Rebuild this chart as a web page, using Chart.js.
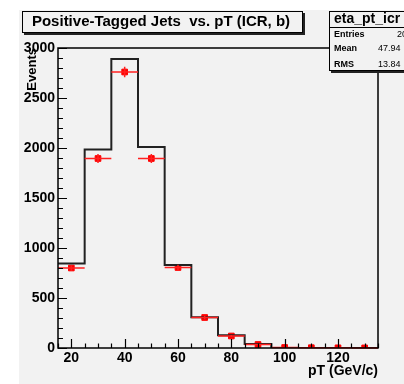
<!DOCTYPE html>
<html>
<head>
<meta charset="utf-8">
<script src="https://cdn.jsdelivr.net/npm/chart.js@4.4.0/dist/chart.umd.min.js"></script>
<style>
html, body { margin: 0; padding: 0; background: #fff; }
#c { display: block; }
</style>
</head>
<body>
<canvas id="c" width="404" height="384"></canvas>
<script>
// bins of 10 GeV/c, centred on these values
const binCenters = [20, 30, 40, 50, 60, 70, 80, 90, 100, 110, 120, 130];
// black histogram (expected)
const histCounts = [845, 1985, 2890, 2010, 830, 308, 127, 40, 0, 0, 0, 0];
// red markers (data) and their vertical errors
const dataCounts = [800, 1895, 2760, 1895, 805, 305, 120, 35, 5, 3, 2, 1];
const dataErrors = [28, 44, 52, 44, 28, 17, 11, 6, 2, 2, 1, 1];
const xTicks = [20, 40, 60, 80, 100, 120];
const yTicks = [0, 500, 1000, 1500, 2000, 2500, 3000];
const binWidth = 10;

const FONT = '"Liberation Sans", Arial, Helvetica, sans-serif';
const BG = '#f2f2f2';

// step outline of the histogram built from the bin edges
const stepPoints = [];
binCenters.forEach((c, i) => {
    stepPoints.push({ x: c - binWidth / 2, y: histCounts[i] });
    stepPoints.push({ x: c + binWidth / 2, y: histCounts[i] });
});
const markerPoints = binCenters.map((c, i) => ({ x: c, y: dataCounts[i] }));

const rootStyle = {
    id: 'rootStyle',
    beforeDraw(chart) {
        const { ctx, width, height } = chart;
        ctx.save();
        ctx.fillStyle = '#fff';
        ctx.fillRect(0, 0, width, height);
        ctx.fillStyle = BG;
        ctx.fillRect(19, 10, width - 19, height - 10);
        ctx.restore();
    },
    afterDatasetsDraw(chart) {
        const { ctx, chartArea: a, scales: { x, y } } = chart;
        ctx.save();
        // error bars
        ctx.strokeStyle = '#ff2020';
        ctx.lineWidth = 1.5;
        binCenters.forEach((c, i) => {
            const py = y.getPixelForValue(dataCounts[i]);
            ctx.beginPath();
            ctx.moveTo(x.getPixelForValue(c - binWidth / 2), py);
            ctx.lineTo(x.getPixelForValue(c + binWidth / 2), py);
            ctx.moveTo(x.getPixelForValue(c), y.getPixelForValue(dataCounts[i] - dataErrors[i]));
            ctx.lineTo(x.getPixelForValue(c), y.getPixelForValue(dataCounts[i] + dataErrors[i]));
            ctx.stroke();
        });
        // frame
        ctx.strokeStyle = '#000';
        ctx.lineWidth = 1.5;
        ctx.strokeRect(a.left, a.top, a.right - a.left, a.bottom - a.top);
        // inward ticks
        ctx.lineWidth = 1.2;
        ctx.beginPath();
        for (let v = 0; v <= 3000; v += 100) {
            const py = Math.round(y.getPixelForValue(v)) + 0.5;
            const len = v % 500 === 0 ? 9 : 5;
            ctx.moveTo(a.left, py);
            ctx.lineTo(a.left + len, py);
        }
        for (let v = 15; v <= 135; v += 5) {
            const px = Math.round(x.getPixelForValue(v)) + 0.5;
            const len = v % 20 === 0 ? 9 : 4.5;
            ctx.moveTo(px, a.bottom);
            ctx.lineTo(px, a.bottom - len);
        }
        ctx.stroke();
        ctx.restore();
    },
    afterDraw(chart) {
        const { ctx } = chart;
        ctx.save();
        // title box
        ctx.fillStyle = '#222';
        ctx.fillRect(24, 13, 281, 22);
        ctx.fillStyle = BG;
        ctx.fillRect(22, 11, 281, 22);
        ctx.strokeStyle = '#000';
        ctx.lineWidth = 1;
        ctx.strokeRect(22.5, 11.5, 280, 21);
        ctx.fillStyle = '#000';
        ctx.font = 'bold 15px ' + FONT;
        ctx.textAlign = 'center';
        ctx.textBaseline = 'middle';
        ctx.fillText('Positive-Tagged Jets  vs. pT (ICR, b)', 161, 22);

        // stats box
        ctx.fillStyle = '#222';
        ctx.fillRect(331, 13, 90, 60);
        ctx.fillStyle = BG;
        ctx.fillRect(329, 11, 90, 60);
        ctx.strokeRect(329.5, 11.5, 90, 59);
        ctx.beginPath();
        ctx.moveTo(329, 27.5);
        ctx.lineTo(420, 27.5);
        ctx.stroke();
        ctx.fillStyle = '#000';
        ctx.font = 'bold 14px ' + FONT;
        ctx.textAlign = 'left';
        ctx.fillText('eta_pt_icr', 334, 19);
        ctx.font = 'bold 9px ' + FONT;
        ctx.fillText('Entries', 334, 35);
        ctx.fillText('Mean', 334, 49);
        ctx.fillText('RMS', 334, 65);
        ctx.font = '9px ' + FONT;
        ctx.fillText('2035', 397, 35);
        ctx.fillText('47.94', 378, 49);
        ctx.fillText('13.84', 378, 65);
        ctx.restore();
    }
};

const chart = new Chart(document.getElementById('c'), {
    type: 'scatter',
    data: {
        datasets: [
            {
                type: 'line',
                data: stepPoints,
                borderColor: '#222',
                borderWidth: 2,
                pointRadius: 0,
                fill: false,
                tension: 0,
            },
            {
                data: markerPoints,
                backgroundColor: '#ff0000',
                borderColor: '#ff0000',
                pointStyle: 'rect',
                pointRadius: 4,
                showLine: false,
            },
        ],
    },
    options: {
        responsive: false,
        animation: false,
        devicePixelRatio: 1,
        layout: { padding: { left: 0, top: 48, right: 26, bottom: 0 } },
        scales: {
            x: {
                type: 'linear',
                min: 15,
                max: 135,
                afterBuildTicks: (s) => { s.ticks = xTicks.map((v) => ({ value: v })); },
                afterFit: (s) => { s.height = 36; },
                grid: { display: false, drawTicks: false },
                border: { display: false },
                ticks: {
                    color: '#000',
                    padding: 2,
                    callback: (v) => String(v),
                    font: { family: FONT, size: 14, weight: 'bold' },
                },
                title: {
                    display: true,
                    text: 'pT (GeV/c)',
                    align: 'end',
                    color: '#000',
                    padding: { top: 0, bottom: 4 },
                    font: { family: FONT, size: 14, weight: 'bold' },
                },
            },
            y: {
                min: 0,
                max: 3000,
                afterBuildTicks: (s) => { s.ticks = yTicks.map((v) => ({ value: v })); },
                afterFit: (s) => { s.width = 58; },
                grid: { display: false, drawTicks: false },
                border: { display: false },
                ticks: {
                    color: '#000',
                    padding: 3,
                    callback: (v) => String(v),
                    font: { family: FONT, size: 14, weight: 'bold' },
                },
                title: {
                    display: true,
                    text: 'Events',
                    align: 'end',
                    color: '#000',
                    padding: { top: 25, bottom: 0 },
                    font: { family: FONT, size: 13, weight: 'bold' },
                },
            },
        },
        plugins: {
            legend: { display: false },
            title: { display: false },
            tooltip: { enabled: false },
        },
    },
    plugins: [rootStyle],
});
</script>
</body>
</html>
